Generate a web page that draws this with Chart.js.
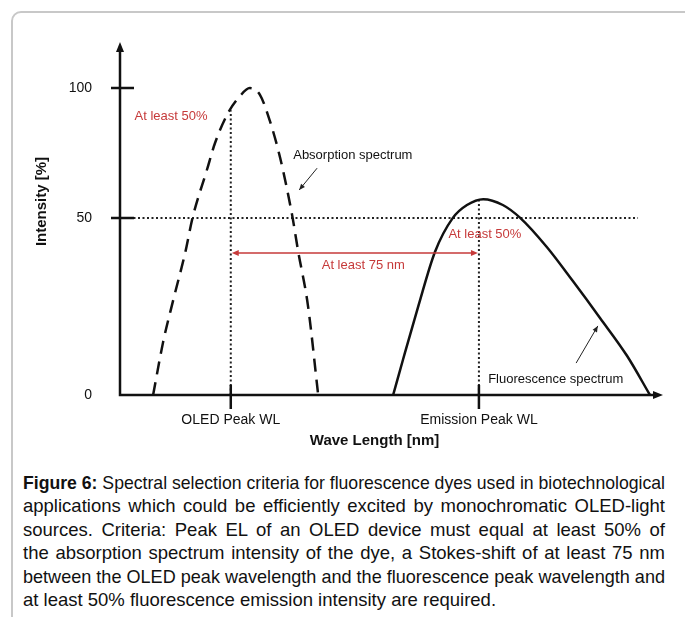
<!DOCTYPE html>
<html>
<head>
<meta charset="utf-8">
<script src="https://cdn.jsdelivr.net/npm/chart.js@4.4.1/dist/chart.umd.min.js"></script>
<style>
html, body { margin: 0; padding: 0; background: #fff; overflow: hidden; }
body { width: 685px; height: 617px; position: relative; }
#frame { position: absolute; left: 11px; top: 11px; width: 684px; height: 640px; border: 2px solid #c8c8c8; border-radius: 10px; box-sizing: border-box; }
#myChart { position: absolute; left: 0; top: 0; }
#caption { position: absolute; left: 23px; top: 471px; width: 642px; font-family: 'Liberation Sans', Arial, sans-serif; font-size: 18.5px; line-height: 23.4px; color: #111; }
#caption div { text-align: justify; text-align-last: justify; white-space: nowrap; }
#caption div.last { text-align-last: left; }
</style>
</head>
<body>
<div id="frame"></div>
<canvas id="myChart" width="685" height="460"></canvas>
<div id="caption">
  <div><span><b>Figure 6:</b> Spectral selection criteria for fluorescence dyes used in biotechnological</span></div>
  <div><span>applications which could be efficiently excited by monochromatic OLED-light</span></div>
  <div><span>sources. Criteria: Peak EL of an OLED device must equal at least 50% of</span></div>
  <div><span>the absorption spectrum intensity of the dye, a Stokes-shift of at least 75 nm</span></div>
  <div><span>between the OLED peak wavelength and the fluorescence peak wavelength and</span></div>
  <div class="last"><span>at least 50% fluorescence emission intensity are required.</span></div>
</div>
<script>
'use strict';

// data (schematic units)
const absX = [6.1, 7.9, 9.8, 12.0, 13.4, 16.0, 17.5, 19.9, 22.1, 23.9, 25.8, 27.6, 29.5, 31.7, 32.8, 34.6, 36.5];
const absY = [0, 16.9, 30.9, 46.3, 58.0, 73.3, 82.1, 91.9, 97.4, 100, 97.7, 89.3, 77.2, 58.6, 46.9, 29.3, 0];

const emX = [50.3, 52.1, 54.9, 58.0, 61.3, 63.9, 66.9, 70.5, 73.7, 78.6, 83.4, 88.4, 93.4, 97.6];
const emY = [0, 11.4, 28.7, 46.6, 57.7, 61.9, 63.8, 61.9, 57.7, 48.2, 37.1, 25.1, 12.7, 0];

const yTickValues = [0, 57.7, 100];
const yTickLabels = ['0', '50', '100'];
const xTickValues = [20.4, 66.1];
const xTickLabels = ['OLED Peak WL', 'Emission Peak WL'];

const oledPeak = 20.4;
const oledAbs = 92.8;
const emPeak = 66.1;
const emTop = 63.6;
const halfLevel = 57.7;
const halfEnd = 95.4;
const shiftLevel = 46.3;

const xMax = 100;
const yMax = 115;
const red = '#c63a3a';

// squeeze caption lines that are too long, like the printed figure does
const captionLines = document.querySelectorAll('#caption div');
for (let i = 0; i < captionLines.length; i++) {
  const w = captionLines[i].firstChild.getBoundingClientRect().width;
  if (w > 642) {
    captionLines[i].style.width = w + 'px';
    captionLines[i].style.textAlignLast = 'left';
    captionLines[i].style.transformOrigin = '0 0';
    captionLines[i].style.transform = 'scaleX(' + (642 / w) + ')';
  }
}

function toPoints(xs, ys) {
  let pts = [];
  for (let i = 0; i < xs.length; i++) {
    pts.push({ x: xs[i], y: ys[i] });
  }
  return pts;
}

function arrowHead(ctx, x1, y1, x2, y2, len, half) {
  const a = Math.atan2(y2 - y1, x2 - x1);
  ctx.beginPath();
  ctx.moveTo(x2, y2);
  ctx.lineTo(x2 - len * Math.cos(a) + half * Math.sin(a), y2 - len * Math.sin(a) - half * Math.cos(a));
  ctx.lineTo(x2 - len * Math.cos(a) - half * Math.sin(a), y2 - len * Math.sin(a) + half * Math.cos(a));
  ctx.closePath();
  ctx.fill();
}

const drawingPlugin = {
  id: 'drawing',
  afterDraw(chart) {
    const ctx = chart.ctx;
    const xs = chart.scales.x;
    const ys = chart.scales.y;
    const x0 = xs.getPixelForValue(0);
    const y0 = ys.getPixelForValue(0);
    ctx.save();

    // axes with arrows
    ctx.strokeStyle = '#111';
    ctx.fillStyle = '#111';
    ctx.lineWidth = 2.5;
    ctx.beginPath();
    ctx.moveTo(x0, y0 + 1.2);
    ctx.lineTo(x0, ys.getPixelForValue(yMax) + 6);
    ctx.moveTo(x0 - 1.2, y0);
    ctx.lineTo(xs.getPixelForValue(xMax) - 6, y0);
    ctx.stroke();
    arrowHead(ctx, x0, y0, x0, ys.getPixelForValue(yMax), 10, 4);
    arrowHead(ctx, x0, y0, xs.getPixelForValue(xMax), y0, 10, 4);

    // tick marks
    ctx.beginPath();
    for (let i = 1; i < yTickValues.length; i++) {
      const py = ys.getPixelForValue(yTickValues[i]);
      ctx.moveTo(x0 - 9, py);
      ctx.lineTo(x0 + 14, py);
    }
    for (let i = 0; i < xTickValues.length; i++) {
      const px = xs.getPixelForValue(xTickValues[i]);
      ctx.moveTo(px, y0 - 10);
      ctx.lineTo(px, y0 + 14);
    }
    ctx.stroke();

    // red shift arrow
    const sy = ys.getPixelForValue(shiftLevel);
    const sx1 = xs.getPixelForValue(oledPeak) + 1;
    const sx2 = xs.getPixelForValue(emPeak) - 1;
    ctx.strokeStyle = red;
    ctx.fillStyle = red;
    ctx.lineWidth = 1.5;
    ctx.beginPath();
    ctx.moveTo(sx1 + 5, sy);
    ctx.lineTo(sx2 - 5, sy);
    ctx.stroke();
    arrowHead(ctx, sx2, sy, sx1, sy, 7, 3);
    arrowHead(ctx, sx1, sy, sx2, sy, 7, 3);

    // pointer arrows
    ctx.strokeStyle = '#222';
    ctx.fillStyle = '#222';
    ctx.lineWidth = 1;
    const ptrs = [[36.3, 73.9, 33.0, 66.8], [84.0, 10.4, 88.0, 22.5]];
    ptrs.forEach(function (p) {
      const ax = xs.getPixelForValue(p[0]);
      const ay = ys.getPixelForValue(p[1]);
      const bx = xs.getPixelForValue(p[2]);
      const by = ys.getPixelForValue(p[3]);
      ctx.beginPath();
      ctx.moveTo(ax, ay);
      ctx.lineTo(bx, by);
      ctx.stroke();
      arrowHead(ctx, ax, ay, bx, by, 6, 2.5);
    });

    // texts
    ctx.textBaseline = 'middle';
    ctx.font = "13px 'Liberation Sans', Arial, sans-serif";
    ctx.fillStyle = red;
    ctx.textAlign = 'center';
    ctx.fillText('At least 50%', xs.getPixelForValue(9.4), ys.getPixelForValue(90.6));
    ctx.fillText('At least 50%', xs.getPixelForValue(67.2), ys.getPixelForValue(52.4));
    ctx.fillText('At least 75 nm', xs.getPixelForValue(44.8), ys.getPixelForValue(42.3));
    ctx.fillStyle = '#111';
    ctx.textAlign = 'left';
    ctx.fillText('Absorption spectrum', xs.getPixelForValue(31.9), ys.getPixelForValue(77.9));
    ctx.fillText('Fluorescence spectrum', xs.getPixelForValue(67.8), ys.getPixelForValue(5.2));

    // axis titles
    ctx.font = "bold 15px 'Liberation Sans', Arial, sans-serif";
    ctx.textAlign = 'center';
    ctx.fillText('Wave Length [nm]', (chart.chartArea.left + chart.chartArea.right) / 2 - 17, chart.chartArea.bottom + 46);
    ctx.translate(42, (chart.chartArea.top + chart.chartArea.bottom) / 2 - 17);
    ctx.rotate(-Math.PI / 2);
    ctx.fillText('Intensity [%]', 0, 0);
    ctx.restore();
  }
};

Chart.defaults.font.family = "'Liberation Sans', Arial, sans-serif";
Chart.defaults.color = '#111';

const dotted = [2, 2.5];

let config = {
  type: 'line',
  data: {
    datasets: [
      {
        label: 'Absorption spectrum',
        data: toPoints(absX, absY),
        borderColor: '#111',
        borderWidth: 2.5,
        borderDash: [13, 8],
        cubicInterpolationMode: 'monotone',
        pointRadius: 0
      },
      {
        label: 'Fluorescence spectrum',
        data: toPoints(emX, emY),
        borderColor: '#111',
        borderWidth: 2.5,
        cubicInterpolationMode: 'monotone',
        pointRadius: 0
      },
      {
        label: '50 %',
        data: [{ x: 0, y: halfLevel }, { x: halfEnd, y: halfLevel }],
        borderColor: '#222',
        borderWidth: 2,
        borderDash: dotted,
        pointRadius: 0
      },
      {
        label: 'OLED peak',
        data: [{ x: oledPeak, y: 0 }, { x: oledPeak, y: oledAbs }],
        borderColor: '#222',
        borderWidth: 2,
        borderDash: dotted,
        pointRadius: 0
      },
      {
        label: 'Emission peak',
        data: [{ x: emPeak, y: 0 }, { x: emPeak, y: emTop }],
        borderColor: '#222',
        borderWidth: 2,
        borderDash: dotted,
        pointRadius: 0
      }
    ]
  },
  options: {
    responsive: false,
    animation: false,
    layout: { padding: { top: 42, right: 22, left: 0, bottom: 0 } },
    plugins: { legend: { display: false }, tooltip: { enabled: false } },
    scales: {
      x: {
        type: 'linear',
        min: 0,
        max: xMax,
        grid: { display: false },
        border: { display: false },
        ticks: {
          autoSkip: false,
          maxRotation: 0,
          padding: 9,
          font: { size: 14 },
          callback: function (v, i) { return xTickLabels[i]; }
        },
        afterBuildTicks: function (scale) {
          scale.ticks = xTickValues.map(v => ({ value: v }));
        },
        afterFit: function (scale) {
          scale.height = 65;
          scale.paddingLeft = 0;
          scale.paddingRight = 0;
        }
      },
      y: {
        type: 'linear',
        min: 0,
        max: yMax,
        grid: { display: false },
        border: { display: false },
        ticks: {
          autoSkip: false,
          padding: 20,
          font: { size: 14 },
          callback: function (v, i) { return yTickLabels[i]; }
        },
        afterBuildTicks: function (scale) {
          scale.ticks = yTickValues.map(v => ({ value: v }));
        },
        afterFit: function (scale) {
          scale.width = 120;
          scale.paddingTop = 0;
          scale.paddingBottom = 0;
        }
      }
    }
  },
  plugins: [drawingPlugin]
};

const chart = new Chart(document.getElementById('myChart'), config);
</script>
</body>
</html>
